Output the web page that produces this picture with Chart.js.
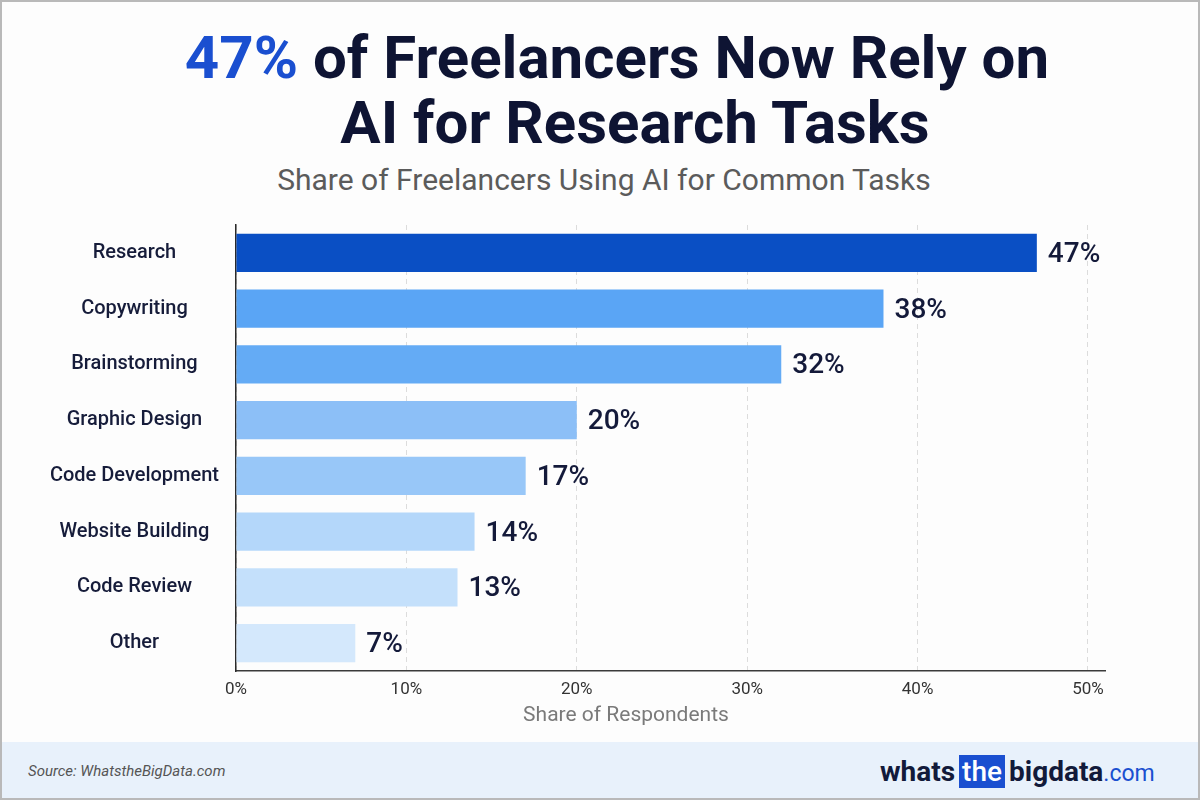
<!DOCTYPE html>
<html>
<head>
<meta charset="utf-8">
<script src="https://cdn.jsdelivr.net/npm/chart.js@4.4.1/dist/chart.umd.min.js"></script>
<style>
  html, body { margin: 0; padding: 0; }
  body { width: 1200px; height: 800px; position: relative; overflow: hidden; background: #fdfdfd; font-family: Roboto, "Noto Sans", sans-serif; }
  .frame { position: absolute; left: 0; top: 0; width: 1196px; height: 796px; border: 2px solid #b9b9b9; pointer-events: none; z-index: 5; }
  .title { position: absolute; left: 0; width: 1200px; text-align: center; font-weight: 700; color: #0e1433; font-size: 60px; line-height: 64px; white-space: nowrap; }
  .title span.hl { color: #1a4fd0; }
  #t1 { top: 26px; left: 17px; }
  #t2 { top: 91px; left: 35px; }
  .subtitle { position: absolute; top: 162px; left: 4px; width: 1200px; text-align: center; color: #5b5b5b; font-size: 30px; font-weight: 400; white-space: nowrap; }
  .axis-title { position: absolute; top: 702px; left: 496px; width: 260px; text-align: center; color: #7a7a7a; font-size: 21px; }
  canvas { position: absolute; left: 0; top: 0; }
  .footer { position: absolute; left: 0; top: 742px; width: 1200px; height: 58px; background: #e8f1fb; }
  .source { position: absolute; left: 28px; top: 20px; font-style: italic; color: #555; font-size: 15px; }
  .logo { position: absolute; left: 880px; top: 13px; font-size: 28px; font-weight: 700; color: #121a3a; white-space: nowrap; }
  .logo .the { background: #1a4fd0; color: #fff; padding: 0 3px; margin: 0 4px; font-weight: 500; }
  .logo .com { color: #1a4fd0; font-weight: 400; font-size: 23px; }
</style>
</head>
<body>
<div class="frame"></div>
<div class="title" id="t1"><span class="hl">47%</span> of Freelancers Now Rely on</div>
<div class="title" id="t2">AI for Research Tasks</div>
<div class="subtitle">Share of Freelancers Using AI for Common Tasks</div>
<canvas id="chart" width="1200" height="800"></canvas>
<div class="axis-title">Share of Respondents</div>
<div class="footer">
  <div class="source">Source: WhatstheBigData.com</div>
  <div class="logo">whats<span class="the">the</span>bigdata<span class="com">.com</span></div>
</div>
<script>
const categories = ['Research', 'Copywriting', 'Brainstorming', 'Graphic Design', 'Code Development', 'Website Building', 'Code Review', 'Other'];
const shares = [47, 38, 32, 20, 17, 14, 13, 7];
const barColors = ['#0a4fc4', '#5aa5f5', '#64abf5', '#8cbff7', '#98c7f8', '#b4d7fa', '#c4e0fb', '#d4e8fc'];
const xTicks = [0, 10, 20, 30, 40, 50];

// writes "47%" etc. just right of each bar end
const valueLabels = {
  id: 'valueLabels',
  afterDatasetsDraw(chart) {
    const ctx = chart.ctx;
    const meta = chart.getDatasetMeta(0);
    ctx.save();
    ctx.font = '500 28px Roboto';
    ctx.fillStyle = '#141a3a';
    ctx.textBaseline = 'middle';
    ctx.textAlign = 'left';
    meta.data.forEach((bar, i) => {
      ctx.fillText(shares[i] + '%', bar.x + 11, bar.y + 2);
    });
    ctx.restore();
  }
};

new Chart(document.getElementById('chart'), {
  type: 'bar',
  data: {
    labels: categories,
    datasets: [{
      data: shares,
      backgroundColor: barColors,
      borderWidth: 0,
      categoryPercentage: 1,
      barPercentage: 0.69
    }]
  },
  options: {
    indexAxis: 'y',
    responsive: false,
    animation: false,
    devicePixelRatio: 1,
    layout: { padding: { left: 0, right: 95, top: 225, bottom: 89 } },
    plugins: {
      legend: { display: false },
      tooltip: { enabled: false }
    },
    scales: {
      x: {
        min: 0,
        max: 51,
        afterBuildTicks: (scale) => { scale.ticks = xTicks.map(v => ({ value: v })); },
        afterFit: (scale) => { scale.height = 40; },
        grid: { color: '#dcdcdc', lineWidth: 1, drawTicks: false },
        border: { color: '#3a3a3a', width: 1.5, dash: [5, 4] },
        ticks: {
          padding: 9,
          color: '#333',
          font: { family: 'Roboto', size: 17 },
          callback: (v) => v + '%'
        }
      },
      y: {
        afterFit: (scale) => { scale.width = 236; },
        grid: { display: false, drawTicks: false },
        border: { color: '#2a2a2a', width: 1.5 },
        ticks: {
          crossAlign: 'center',
          padding: 17,
          color: '#161c3a',
          font: { family: 'Roboto', size: 20, weight: '500' }
        }
      }
    }
  },
  plugins: [valueLabels]
});
</script>
</body>
</html>
